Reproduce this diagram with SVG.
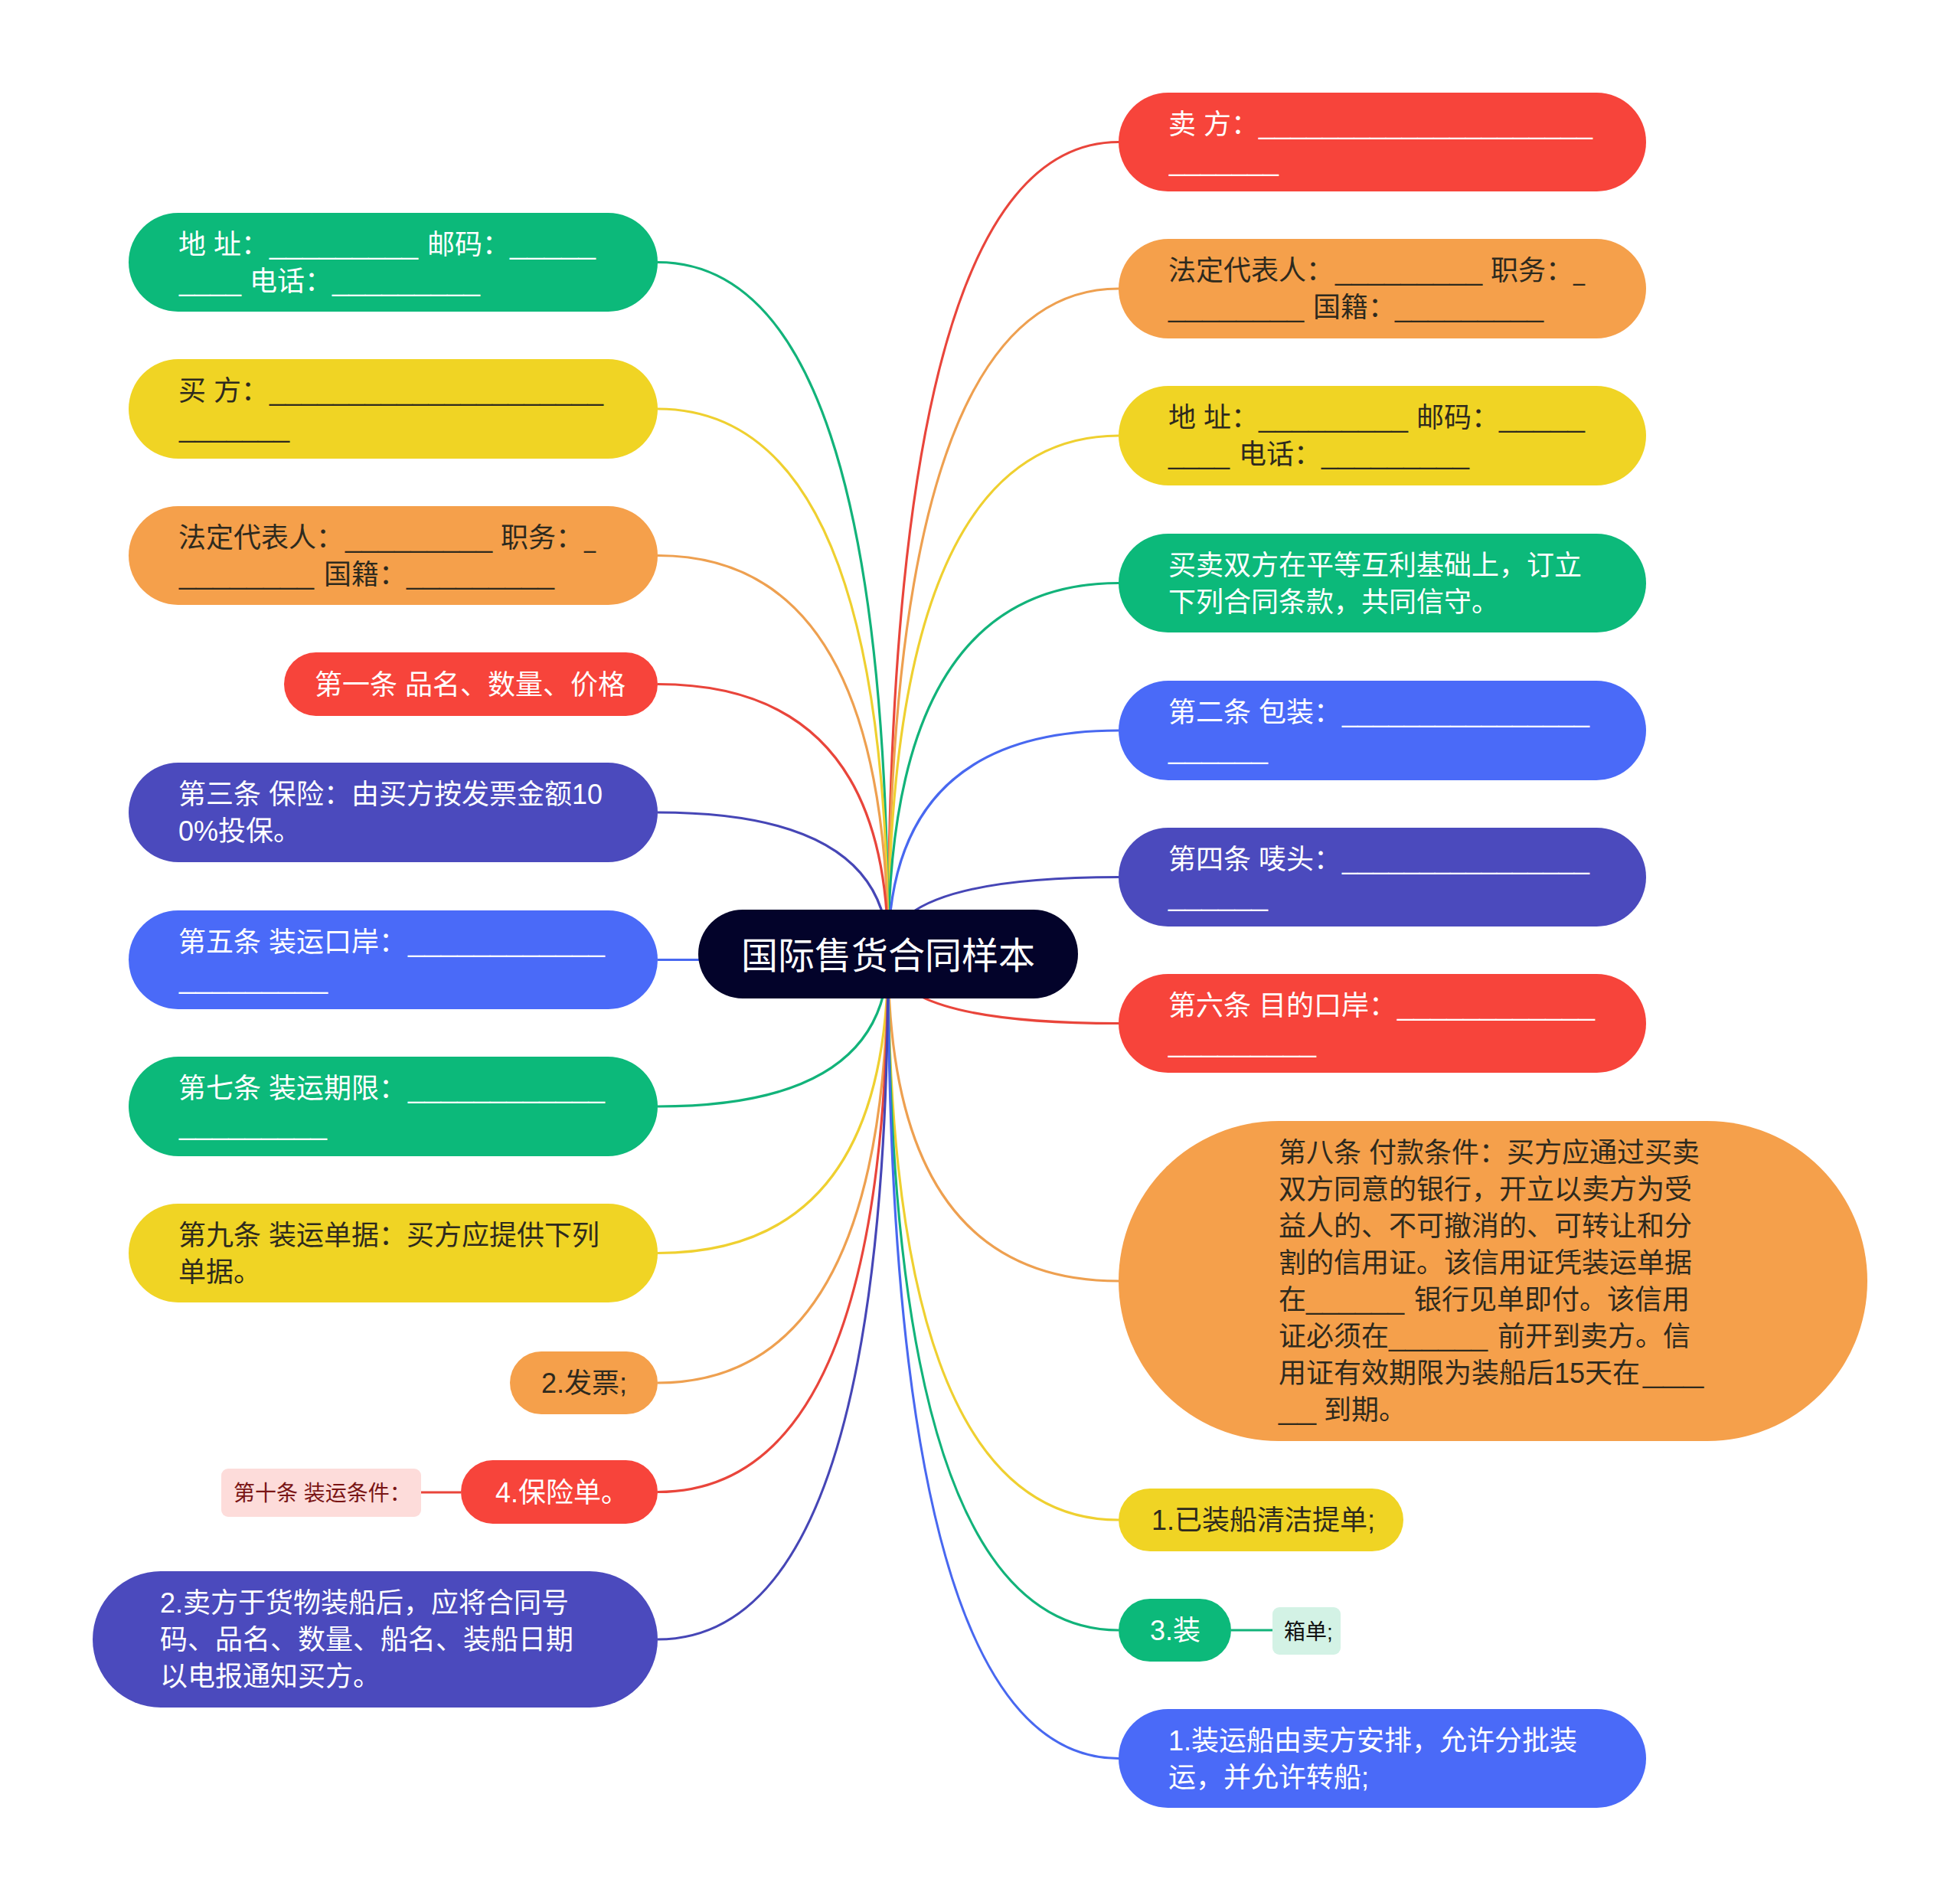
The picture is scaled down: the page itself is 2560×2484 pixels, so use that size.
<svg xmlns="http://www.w3.org/2000/svg" width="2560" height="2484" viewBox="0 0 2560 2484">
<style>
text{font-family:"Liberation Sans","Noto Sans CJK SC",sans-serif;font-size:36px}
.w{fill:#ffffff}.d{fill:#2e2a1e}
.sm{font-size:28px}
.red{fill:#F7443B}.ora{fill:#F5A04B}.yel{fill:#F0D424}.grn{fill:#0CB97A}.blu{fill:#4A6AF8}.ind{fill:#4B4ABD}
.c path{fill:none;stroke-width:3.2}
.cr{stroke:#E9453B}.co{stroke:#EEA050}.cy{stroke:#EFD030}.cg{stroke:#12B37A}.cb{stroke:#4868F0}.ci{stroke:#4646B6}
</style>
<rect width="2560" height="2484" fill="#ffffff"/>
<g id="connectors" class="c">
<path class="cr" d="M1160 1246 Q1160 185.5 1461 185.5"/>
<path class="co" d="M1160 1246 Q1160 377 1461 377"/>
<path class="cy" d="M1160 1246 Q1160 569 1461 569"/>
<path class="cg" d="M1160 1246 Q1160 761.5 1461 761.5"/>
<path class="cb" d="M1160 1246 Q1160 954 1461 954"/>
<path class="ci" d="M1160 1246 Q1160 1145.5 1461 1145.5"/>
<path class="cr" d="M1160 1246 Q1160 1336.5 1461 1336.5"/>
<path class="co" d="M1160 1246 Q1160 1673 1461 1673"/>
<path class="cy" d="M1160 1246 Q1160 1985 1461 1985"/>
<path class="cg" d="M1160 1246 Q1160 2129 1461 2129"/>
<path class="cb" d="M1160 1246 Q1160 2296.5 1461 2296.5"/>
<path class="cg" d="M1160 1246 Q1160 342.5 859 342.5"/>
<path class="cy" d="M1160 1246 Q1160 534 859 534"/>
<path class="co" d="M1160 1246 Q1160 725.5 859 725.5"/>
<path class="cr" d="M1160 1246 Q1160 893.5 859 893.5"/>
<path class="ci" d="M1160 1246 Q1160 1061 859 1061"/>
<path class="cb" d="M1160 1246 Q1160 1253.5 859 1253.5"/>
<path class="cg" d="M1160 1246 Q1160 1445 859 1445"/>
<path class="cy" d="M1160 1246 Q1160 1636.5 859 1636.5"/>
<path class="co" d="M1160 1246 Q1160 1806 859 1806"/>
<path class="cr" d="M1160 1246 Q1160 1948.5 859 1948.5"/>
<path class="ci" d="M1160 1246 Q1160 2141 859 2141"/>
<path class="cr" d="M550 1949 L602 1949"/>
<path class="cg" d="M1608 2129 L1662 2129"/>
</g>

<g id="center">
<rect x="912" y="1188" width="496" height="116" rx="58" fill="#03032A"/>
<text x="1160" y="1265" text-anchor="middle" class="w" style="font-size:48px">国际售货合同样本</text>
</g>

<g id="r1">
<rect class="red" x="1461" y="121" width="689" height="129" rx="64.5"/>
<text class="w"><tspan x="1526" y="175">卖 方：</tspan><tspan x="1644" y="175" textLength="436" lengthAdjust="spacingAndGlyphs">_____________________</tspan><tspan x="1527" y="223" textLength="143" lengthAdjust="spacingAndGlyphs">_______</tspan></text>
</g>
<g id="r2">
<rect class="ora" x="1461" y="312" width="689" height="130" rx="65"/>
<text class="d"><tspan x="1526" y="366">法定代表人：</tspan><tspan x="1744" y="366" textLength="192" lengthAdjust="spacingAndGlyphs">_________</tspan><tspan x="1947" y="366">职务：</tspan><tspan x="2055" y="366" textLength="15" lengthAdjust="spacingAndGlyphs">_</tspan><tspan x="1526" y="414" textLength="177" lengthAdjust="spacingAndGlyphs">________</tspan><tspan x="1715" y="414">国籍：</tspan><tspan x="1822" y="414" textLength="194" lengthAdjust="spacingAndGlyphs">_________</tspan></text>
</g>
<g id="r3">
<rect class="yel" x="1461" y="504" width="689" height="130" rx="65"/>
<text class="d"><tspan x="1526" y="558">地 址：</tspan><tspan x="1644" y="558" textLength="195" lengthAdjust="spacingAndGlyphs">_________</tspan><tspan x="1850" y="558">邮码：</tspan><tspan x="1958" y="558" textLength="112" lengthAdjust="spacingAndGlyphs">_____</tspan><tspan x="1526" y="606" textLength="80" lengthAdjust="spacingAndGlyphs">____</tspan><tspan x="1618" y="606">电话：</tspan><tspan x="1726" y="606" textLength="193" lengthAdjust="spacingAndGlyphs">_________</tspan></text>
</g>
<g id="r4">
<rect class="grn" x="1461" y="697" width="689" height="129" rx="64.5"/>
<text class="w"><tspan x="1526" y="751">买卖双方在平等互利基础上，订立</tspan><tspan x="1526" y="799">下列合同条款，共同信守。</tspan></text>
</g>
<g id="r5">
<rect class="blu" x="1461" y="889" width="689" height="130" rx="65"/>
<text class="w"><tspan x="1526" y="943">第二条 包装：</tspan><tspan x="1753" y="943" textLength="323" lengthAdjust="spacingAndGlyphs">________________</tspan><tspan x="1526" y="991" textLength="130" lengthAdjust="spacingAndGlyphs">______</tspan></text>
</g>
<g id="r6">
<rect class="ind" x="1461" y="1081" width="689" height="129" rx="64.5"/>
<text class="w"><tspan x="1526" y="1135">第四条 唛头：</tspan><tspan x="1753" y="1135" textLength="323" lengthAdjust="spacingAndGlyphs">________________</tspan><tspan x="1526" y="1183" textLength="130" lengthAdjust="spacingAndGlyphs">______</tspan></text>
</g>
<g id="r7">
<rect class="red" x="1461" y="1272" width="689" height="129" rx="64.5"/>
<text class="w"><tspan x="1526" y="1326">第六条 目的口岸：</tspan><tspan x="1825" y="1326" textLength="258" lengthAdjust="spacingAndGlyphs">____________</tspan><tspan x="1526" y="1374" textLength="193" lengthAdjust="spacingAndGlyphs">_________</tspan></text>
</g>
<g id="r8">
<rect class="ora" x="1461" y="1464" width="978" height="418" rx="209"/>
<text class="d"><tspan x="1670" y="1518">第八条 付款条件：买方应通过买卖</tspan><tspan x="1670" y="1566">双方同意的银行，开立以卖方为受</tspan><tspan x="1670" y="1614">益人的、不可撤消的、可转让和分</tspan><tspan x="1670" y="1662">割的信用证。该信用证凭装运单据</tspan><tspan x="1670" y="1710">在</tspan><tspan x="1706" y="1710" textLength="128" lengthAdjust="spacingAndGlyphs">______</tspan><tspan x="1847" y="1710">银行见单即付。该信用</tspan><tspan x="1670" y="1758">证必须在</tspan><tspan x="1814" y="1758" textLength="129" lengthAdjust="spacingAndGlyphs">______</tspan><tspan x="1956" y="1758">前开到卖方。信</tspan><tspan x="1670" y="1806">用证有效期限为装船后15天在</tspan><tspan x="2146" y="1806" textLength="79" lengthAdjust="spacingAndGlyphs">___</tspan><tspan x="1670" y="1854" textLength="49" lengthAdjust="spacingAndGlyphs">__</tspan><tspan x="1729" y="1854">到期。</tspan></text>
</g>
<g id="r9">
<rect class="yel" x="1461" y="1944" width="372" height="82" rx="41"/>
<text class="d" x="1504" y="1998">1.已装船清洁提单;</text>
</g>
<g id="r10">
<rect class="grn" x="1461" y="2088" width="147" height="82" rx="41"/>
<text class="w" x="1502" y="2142">3.装</text>
</g>
<g id="r11">
<rect x="1662" y="2099" width="89" height="62" rx="9" fill="#D3F2E5"/>
<text class="sm" x="1677" y="2141" fill="#111111">箱单;</text>
</g>
<g id="r12">
<rect class="blu" x="1461" y="2232" width="689" height="129" rx="64.5"/>
<text class="w"><tspan x="1526" y="2286">1.装运船由卖方安排，允许分批装</tspan><tspan x="1526" y="2334">运，并允许转船;</tspan></text>
</g>

<g id="l1">
<rect class="grn" x="168" y="278" width="691" height="129" rx="64.5"/>
<text class="w"><tspan x="233" y="332">地 址：</tspan><tspan x="352" y="332" textLength="194" lengthAdjust="spacingAndGlyphs">_________</tspan><tspan x="558" y="332">邮码：</tspan><tspan x="666" y="332" textLength="112" lengthAdjust="spacingAndGlyphs">_____</tspan><tspan x="234" y="380" textLength="81" lengthAdjust="spacingAndGlyphs">____</tspan><tspan x="326" y="380">电话：</tspan><tspan x="434" y="380" textLength="193" lengthAdjust="spacingAndGlyphs">_________</tspan></text>
</g>
<g id="l2">
<rect class="yel" x="168" y="469" width="691" height="130" rx="65"/>
<text class="d"><tspan x="233" y="523">买 方：</tspan><tspan x="352" y="523" textLength="436" lengthAdjust="spacingAndGlyphs">_____________________</tspan><tspan x="234" y="571" textLength="144" lengthAdjust="spacingAndGlyphs">_______</tspan></text>
</g>
<g id="l3">
<rect class="ora" x="168" y="661" width="691" height="129" rx="64.5"/>
<text class="d"><tspan x="233" y="715">法定代表人：</tspan><tspan x="451" y="715" textLength="192" lengthAdjust="spacingAndGlyphs">_________</tspan><tspan x="654" y="715">职务：</tspan><tspan x="763" y="715" textLength="15" lengthAdjust="spacingAndGlyphs">_</tspan><tspan x="234" y="763" textLength="176" lengthAdjust="spacingAndGlyphs">________</tspan><tspan x="423" y="763">国籍：</tspan><tspan x="531" y="763" textLength="193" lengthAdjust="spacingAndGlyphs">_________</tspan></text>
</g>
<g id="l4">
<rect class="red" x="371" y="852" width="488" height="83" rx="41.5"/>
<text class="w" x="411" y="907">第一条 品名、数量、价格</text>
</g>
<g id="l5">
<rect class="ind" x="168" y="996" width="691" height="130" rx="65"/>
<text class="w"><tspan x="233" y="1050">第三条 保险：由买方按发票金额10</tspan><tspan x="233" y="1098">0%投保。</tspan></text>
</g>
<g id="l6">
<rect class="blu" x="168" y="1189" width="691" height="129" rx="64.5"/>
<text class="w"><tspan x="233" y="1243">第五条 装运口岸：</tspan><tspan x="533" y="1243" textLength="257" lengthAdjust="spacingAndGlyphs">____________</tspan><tspan x="234" y="1291" textLength="194" lengthAdjust="spacingAndGlyphs">_________</tspan></text>
</g>
<g id="l7">
<rect class="grn" x="168" y="1380" width="691" height="130" rx="65"/>
<text class="w"><tspan x="233" y="1434">第七条 装运期限：</tspan><tspan x="533" y="1434" textLength="257" lengthAdjust="spacingAndGlyphs">____________</tspan><tspan x="234" y="1482" textLength="193" lengthAdjust="spacingAndGlyphs">_________</tspan></text>
</g>
<g id="l8">
<rect class="yel" x="168" y="1572" width="691" height="129" rx="64.5"/>
<text class="d"><tspan x="233" y="1626">第九条 装运单据：买方应提供下列</tspan><tspan x="233" y="1674">单据。</tspan></text>
</g>
<g id="l9">
<rect class="ora" x="666" y="1765" width="193" height="82" rx="41"/>
<text class="d" x="707" y="1819">2.发票;</text>
</g>
<g id="l10">
<rect class="red" x="602" y="1907" width="257" height="83" rx="41.5"/>
<text class="w" x="647" y="1962">4.保险单。</text>
</g>
<g id="l11">
<rect x="289" y="1918" width="261" height="63" rx="9" fill="#FDDCDA"/>
<text class="sm" x="305" y="1960" fill="#7A1515">第十条 装运条件：</text>
</g>
<g id="l12">
<rect class="ind" x="121" y="2052" width="738" height="178" rx="89"/>
<text class="w"><tspan x="209" y="2106">2.卖方于货物装船后，应将合同号</tspan><tspan x="209" y="2154">码、品名、数量、船名、装船日期</tspan><tspan x="209" y="2202">以电报通知买方。</tspan></text>
</g>
</svg>
